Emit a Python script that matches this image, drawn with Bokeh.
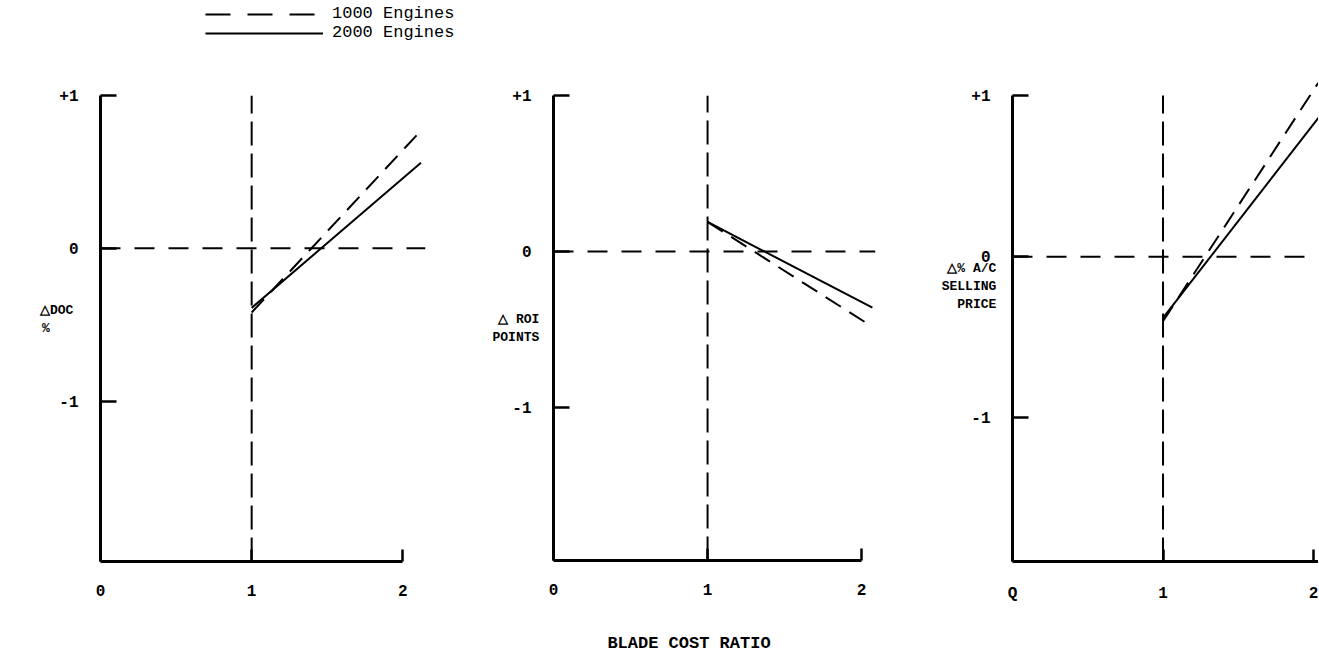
from bokeh.plotting import figure
from bokeh.models import Span, Legend, LegendItem, FixedTicker
from bokeh.layouts import row, column
from bokeh.embed import file_html
from bokeh.resources import INLINE

# ---------------- data ----------------
ratio_ticks = [0, 1, 2]
delta_ticks = [-1, 0, 1]
delta_tick_labels = {-1: "-1", 0: "0", 1: "+1"}
series_names = ["1000 Engines", "2000 Engines"]
base_ratio = 1.0

doc_x = [1.0, 2.12]
doc_1000 = [-0.42, 0.77]
doc_2000 = [-0.39, 0.56]

roi_x_1000 = [1.0, 2.05]
roi_1000 = [0.19, -0.47]
roi_x_2000 = [1.0, 2.07]
roi_2000 = [0.19, -0.36]

price_x = [1.0, 2.04]
price_1000 = [-0.40, 1.09]
price_2000 = [-0.38, 0.87]

FONT = "Liberation Mono"
NB = "\u00a0"
TOP_H = 48
PANEL_H = 607
FRAME_BOTTOM_BORDER = 94


def panel(width, b_left, b_right, b_top, x_end, y_start, y_end, x_bounds, ylabel,
          ylabel_standoff, zero_label="0"):
    p = figure(width=width, height=PANEL_H, x_range=(0, x_end), y_range=(y_start, y_end),
               output_backend="svg", toolbar_location=None,
               min_border_left=b_left, min_border_right=b_right,
               min_border_top=b_top, min_border_bottom=FRAME_BOTTOM_BORDER)
    try:
        p.frame_align = False
    except Exception:
        pass
    p.title.visible = False
    p.outline_line_color = None
    p.xgrid.visible = False
    p.ygrid.visible = False
    p.background_fill_color = None
    p.border_fill_color = None
    for ax in (p.xaxis[0], p.yaxis[0]):
        ax.axis_line_width = 3
        ax.axis_line_color = "black"
        ax.major_tick_line_width = 2.5
        ax.major_tick_line_color = "black"
        ax.major_tick_out = 0
        ax.minor_tick_line_color = None
        ax.major_label_text_font = FONT
        ax.major_label_text_font_style = "bold"
        ax.major_label_text_font_size = "16px"
        ax.major_label_text_color = "black"
        ax.axis_label_text_font = FONT
        ax.axis_label_text_font_style = "bold"
        ax.axis_label_text_font_size = "13px"
        ax.axis_label_text_color = "black"
        ax.axis_label_text_line_height = 1.2
    xa = p.xaxis[0]
    xa.ticker = FixedTicker(ticks=ratio_ticks)
    xa.major_tick_in = 12
    xa.major_label_standoff = 23
    xa.major_label_overrides = {0: zero_label}
    if x_bounds is not None:
        xa.bounds = x_bounds
    ya = p.yaxis[0]
    ya.ticker = FixedTicker(ticks=delta_ticks)
    ya.major_tick_in = 16
    ya.major_label_standoff = 22
    ya.major_label_overrides = delta_tick_labels
    ya.bounds = (y_start, delta_ticks[-1])
    ya.axis_label = ylabel
    try:
        ya.axis_label_orientation = "horizontal"
    except Exception:
        pass
    ya.axis_label_standoff = ylabel_standoff
    # reference lines: ratio 1 (vertical, up to the +1 tick) and zero change (horizontal)
    p.segment(x0=[base_ratio], y0=[y_start], x1=[base_ratio], y1=[delta_ticks[-1]],
              line_color="black", line_width=2, line_dash="24 8")
    p.add_layout(Span(location=0, dimension="width", line_color="black",
                      line_width=2, line_dash="20 14"))
    return p


# ---------------- legend strip ----------------
top = figure(width=1318, height=TOP_H, x_range=(-20, -19), y_range=(0, 1),
             output_backend="svg", toolbar_location=None,
             x_axis_location=None, y_axis_location=None,
             min_border_left=0, min_border_right=0, min_border_top=0, min_border_bottom=0)
top.title.visible = False
top.outline_line_color = None
top.xgrid.visible = False
top.ygrid.visible = False
top.background_fill_color = None
top.border_fill_color = None
lg_dash = top.line(doc_x, doc_1000, line_color="black", line_width=2, line_dash="25 17")
lg_solid = top.line(doc_x, doc_2000, line_color="black", line_width=2)
legend = Legend(items=[LegendItem(label=series_names[0], renderers=[lg_dash]),
                       LegendItem(label=series_names[1], renderers=[lg_solid])],
                location=(205, 6), orientation="vertical",
                glyph_width=118, glyph_height=18, label_height=18, spacing=0,
                label_standoff=9, padding=0, margin=0,
                border_line_alpha=0, background_fill_alpha=0,
                label_text_font=FONT, label_text_font_size="17px",
                label_text_color="black")
top.add_layout(legend)

# ---------------- panel 1: DOC ----------------
p1 = panel(470, 100, 45, 47, 2.15, -2.05, 1.0, (0, 2),
           "\u25b3DOC\n%" + NB * 3 + "\n" + NB, -17)
p1.line(doc_x, doc_1000, line_color="black", line_width=2, line_dash="18 10")
p1.line(doc_x, doc_2000, line_color="black", line_width=2)

# ---------------- panel 2: ROI ----------------
p2 = panel(460, 83, 55, 47, 2.09, -1.98, 1.0, (0, 2), "\u25b3 ROI\nPOINTS", -30)
p2.line(roi_x_1000, roi_1000, line_color="black", line_width=2, line_dash="18 10")
p2.line(roi_x_2000, roi_2000, line_color="black", line_width=2)
p2.xaxis[0].axis_label = "BLADE COST RATIO" + NB * 5
p2.xaxis[0].axis_label_standoff = 36
p2.xaxis[0].axis_label_text_font_size = "17px"

# ---------------- panel 3: selling price ----------------
p3 = panel(388, 82, 0, 34, 2.033, -1.89, 1.08, None,
           "\u25b3% A/C\nSELLING\nPRICE" + ("\n" + NB) * 4, -28, zero_label="Q")
p3.line(price_x, price_1000, line_color="black", line_width=2, line_dash="18 10")
p3.line(price_x, price_2000, line_color="black", line_width=2)

layout = column(top, row(p1, p2, p3, spacing=0), spacing=0)
open("out.html", "w").write(file_html(layout, INLINE))
